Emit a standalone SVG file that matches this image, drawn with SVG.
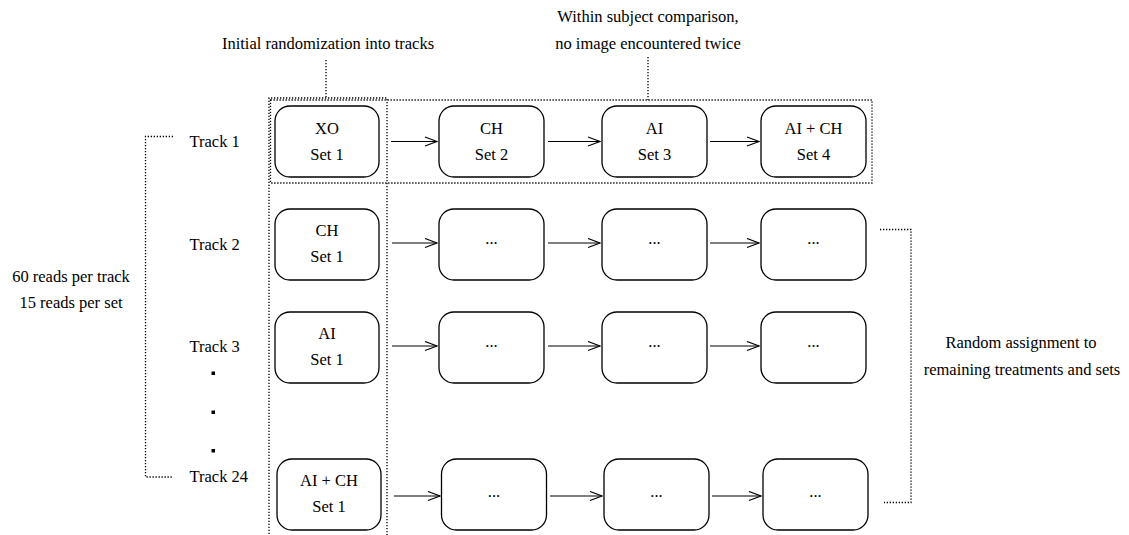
<svg xmlns="http://www.w3.org/2000/svg" width="1129" height="535" viewBox="0 0 1129 535">
<defs>
<style>
text{font-family:"Liberation Serif","Times New Roman",serif;font-size:16.5px;fill:#000}
.c{text-anchor:middle}
.box{fill:#fff;stroke:#000;stroke-width:1.3}
.dot{fill:none;stroke:#000;stroke-width:1.3;stroke-dasharray:1.3 1.7}
.arr{fill:none;stroke:#000;stroke-width:1.2;marker-end:url(#ah)}
</style>
<marker id="ah" markerUnits="userSpaceOnUse" markerWidth="14" markerHeight="12" refX="13" refY="5.5" orient="auto">
<path d="M1,1 L13,5.5 L1,10" fill="none" stroke="#000" stroke-width="1.2"/>
</marker>
</defs>
<rect width="1129" height="535" fill="#fff"/>

<g id="annotations">
<text class="c" x="328" y="49">Initial randomization into tracks</text>
<text class="c" x="648" y="22">Within subject comparison,</text>
<text class="c" x="648" y="48.5">no image encountered twice</text>
<text class="c" x="71" y="281.5">60 reads per track</text>
<text class="c" x="71" y="308">15 reads per set</text>
<text class="c" x="1021" y="348">Random assignment to</text>
<text class="c" x="1022" y="375">remaining treatments and sets</text>
<text x="189.5" y="147">Track 1</text>
<text x="189.5" y="249.5">Track 2</text>
<text x="189.5" y="352">Track 3</text>
<text x="189.5" y="481.5">Track 24</text>
<rect x="211.5" y="371.5" width="3.5" height="3.5" fill="#000"/>
<rect x="211.5" y="410.5" width="3.5" height="3.5" fill="#000"/>
<rect x="211.5" y="449" width="3.5" height="3.5" fill="#000"/>
</g>

<g id="brackets">
<path class="dot" d="M326,60 V98"/>
<path class="dot" d="M648,57 V100"/>
<path class="dot" d="M269,540 V98 H387 V540"/>
<rect class="dot" x="270.5" y="100" width="601.5" height="83"/>
<path class="dot" d="M173,136.5 H145.5 V477 H173"/>
<path class="dot" d="M880,229.5 H911 V502.5 H884"/>
</g>

<g id="connectors">
<path class="arr" d="M391,141.5 H437"/>
<path class="arr" d="M548,141.5 H600"/>
<path class="arr" d="M710,141.5 H759"/>
<path class="arr" d="M392,243 H437"/>
<path class="arr" d="M548,243 H600"/>
<path class="arr" d="M710,243 H759"/>
<path class="arr" d="M392,346 H437"/>
<path class="arr" d="M548,346 H600"/>
<path class="arr" d="M710,346 H759"/>
<path class="arr" d="M394,496 H440"/>
<path class="arr" d="M550,496 H602"/>
<path class="arr" d="M712,496 H761"/>
</g>

<g id="t1s1"><rect class="box" x="275" y="106" width="104" height="71" rx="15"/><text class="c" x="327" y="133.5">XO</text><text class="c" x="327" y="159.5">Set 1</text></g>
<g id="t1s2"><rect class="box" x="439" y="106" width="105" height="71" rx="15"/><text class="c" x="491.5" y="133.5">CH</text><text class="c" x="491.5" y="159.5">Set 2</text></g>
<g id="t1s3"><rect class="box" x="602" y="106" width="105" height="71" rx="15"/><text class="c" x="654.5" y="133.5">AI</text><text class="c" x="654.5" y="159.5">Set 3</text></g>
<g id="t1s4"><rect class="box" x="761" y="106" width="105" height="71" rx="15"/><text class="c" x="813.5" y="133.5">AI + CH</text><text class="c" x="813.5" y="159.5">Set 4</text></g>

<g id="t2s1"><rect class="box" x="275" y="209" width="104" height="71" rx="15"/><text class="c" x="327" y="236">CH</text><text class="c" x="327" y="262">Set 1</text></g>
<g id="t2s2"><rect class="box" x="439" y="209" width="105" height="71" rx="15"/><text class="c" x="491.5" y="244">...</text></g>
<g id="t2s3"><rect class="box" x="602" y="209" width="105" height="71" rx="15"/><text class="c" x="654.5" y="244">...</text></g>
<g id="t2s4"><rect class="box" x="761" y="209" width="105" height="71" rx="15"/><text class="c" x="813.5" y="244">...</text></g>

<g id="t3s1"><rect class="box" x="275" y="312" width="104" height="71" rx="15"/><text class="c" x="327" y="339">AI</text><text class="c" x="327" y="365">Set 1</text></g>
<g id="t3s2"><rect class="box" x="439" y="312" width="105" height="71" rx="15"/><text class="c" x="491.5" y="347">...</text></g>
<g id="t3s3"><rect class="box" x="602" y="312" width="105" height="71" rx="15"/><text class="c" x="654.5" y="347">...</text></g>
<g id="t3s4"><rect class="box" x="761" y="312" width="105" height="71" rx="15"/><text class="c" x="813.5" y="347">...</text></g>

<g id="t24s1"><rect class="box" x="277" y="459" width="104" height="71" rx="15"/><text class="c" x="329" y="486">AI + CH</text><text class="c" x="329" y="512">Set 1</text></g>
<g id="t24s2"><rect class="box" x="441.5" y="459" width="105" height="71" rx="15"/><text class="c" x="494" y="497">...</text></g>
<g id="t24s3"><rect class="box" x="604" y="459" width="105" height="71" rx="15"/><text class="c" x="656.5" y="497">...</text></g>
<g id="t24s4"><rect class="box" x="763" y="459" width="105" height="71" rx="15"/><text class="c" x="815.5" y="497">...</text></g>
</svg>
